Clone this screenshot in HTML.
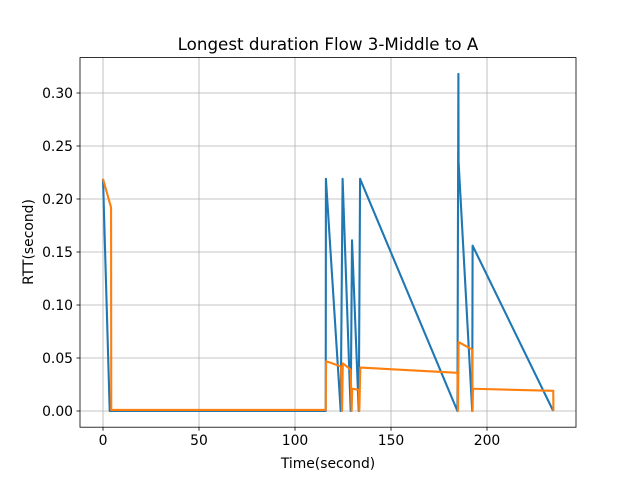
<!DOCTYPE html>
<html><head><meta charset="utf-8"><style>
body{margin:0;background:#fff;font-family:"Liberation Sans","DejaVu Sans",sans-serif;}
svg text{font-family:"DejaVu Sans","Liberation Sans",sans-serif;}
</style></head><body>
<svg id="chart" width="640" height="480" xmlns="http://www.w3.org/2000/svg"></svg>
<script>
const xTicks=[0,50,100,150,200];
const yTicks=[0,0.05,0.10,0.15,0.20,0.25,0.30];
const yTickLabels=["0.00","0.05","0.10","0.15","0.20","0.25","0.30"];
const blueT=[0,3.5,116,116.1,123.8,124.8,129,129.7,133.2,133.9,184.6,185.1,185.2,192.3,192.5,234.5];
const blueV=[0.219,0,0,0.219,0,0.219,0,0.161,0,0.219,0,0.318,0.235,0,0.156,0];
const orangeT=[0,4.2,4.3,116,116.2,124,124.5,124.9,129,129.5,129.8,133.2,133.5,134,184.6,184.9,185.2,192.3,192.5,192.7,234.5,234.6];
const orangeV=[0.219,0.192,0.001,0.001,0.047,0.042,0,0.045,0.039,0,0.021,0.020,0,0.041,0.036,0,0.065,0.058,0,0.021,0.019,0];
const L=80,R=576,T=57.6,B=427.2;
const xs=t=>103+1.92*t;
const ys=v=>411-v*1060;
const svg=document.getElementById('chart');
const NS="http://www.w3.org/2000/svg";
function mk(tag,attrs,parent){const e=document.createElementNS(NS,tag);for(const k in attrs)e.setAttribute(k,attrs[k]);(parent||svg).appendChild(e);return e;}
const grid=mk('g',{});


xTicks.forEach(t=>{const x=xs(t);
 const l=mk('line',{x1:x,x2:x,y1:T,y2:B,stroke:'#b0b0b0','stroke-width':0.8},grid);
 
 
 mk('line',{x1:x,x2:x,y1:B,y2:B+3.5,stroke:'#000','stroke-width':0.8});
 const tx=mk('text',{x:x,y:B+18,'font-size':13.9,'text-anchor':'middle'});tx.textContent=t;
 
 
});
yTicks.forEach((v,i)=>{const y=ys(v);
 const l=mk('line',{x1:L,x2:R,y1:y,y2:y,stroke:'#b0b0b0','stroke-width':0.8},grid);
 
 
 mk('line',{x1:L-3.5,x2:L,y1:y,y2:y,stroke:'#000','stroke-width':0.8});
 const tx=mk('text',{x:L-7,y:y+5,'font-size':13.9,'text-anchor':'end'});tx.textContent=yTickLabels[i];
 
 
});
function series(T_,V_,color,name){
 const p=mk('polyline',{points:T_.map((t,i)=>xs(t)+','+ys(V_[i])).join(' '),fill:'none',stroke:color,'stroke-width':2.1,'stroke-linejoin':'round'});
 
 
}
series(blueT,blueV,'#1f77b4','series-blue');
series(orangeT,orangeV,'#ff7f0e','series-orange');
const fr=mk('rect',{x:L,y:T,width:R-L,height:B-T,fill:'none',stroke:'#000','stroke-width':0.8});


const ti=mk('text',{x:(L+R)/2,y:50,'font-size':16.7,'text-anchor':'middle'});ti.textContent='Longest duration Flow 3-Middle to A';


const xl=mk('text',{x:(L+R)/2,y:468,'font-size':13.9,'text-anchor':'middle'});xl.textContent='Time(second)';


const yl=mk('text',{x:0,y:0,'font-size':13.9,'text-anchor':'middle',transform:'translate(33,242) rotate(-90)'});yl.textContent='RTT(second)';


</script>
</body></html>
